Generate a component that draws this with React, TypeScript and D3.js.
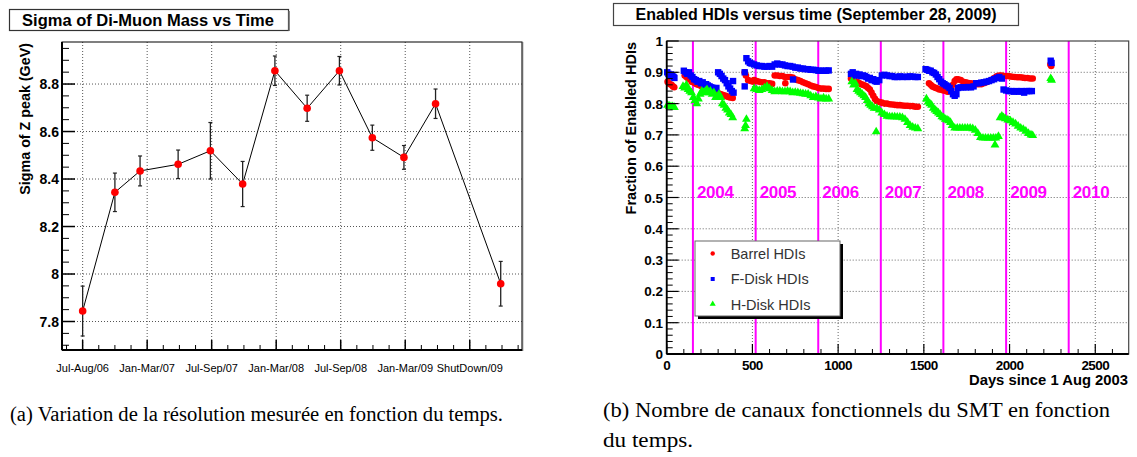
import React from 'react';
import * as d3 from 'd3';

const W = 1137;
const H = 457;
const SANS = '"Liberation Sans", Arial, Helvetica, sans-serif';
const SERIF = '"Liberation Serif", "Times New Roman", serif';

// ---------------- Left panel data ----------------
const leftTitle = 'Sigma of Di-Muon Mass vs Time';
const leftYTitle = 'Sigma of Z peak (GeV)';
const periodLabels = ['Jul-Aug/06', 'Jan-Mar/07', 'Jul-Sep/07', 'Jan-Mar/08', 'Jul-Sep/08', 'Jan-Mar/09', 'ShutDown/09'];
const sigmaX = [0, 0.5, 0.89, 1.48, 1.98, 2.48, 2.98, 3.48, 3.98, 4.49, 4.98, 5.47, 6.48];
const sigmaVals = [7.844, 8.344, 8.434, 8.462, 8.519, 8.379, 8.856, 8.698, 8.856, 8.574, 8.491, 8.717, 7.959];
const sigmaErr = [0.105, 0.081, 0.063, 0.06, 0.119, 0.095, 0.062, 0.055, 0.06, 0.053, 0.05, 0.062, 0.094];
const sigmaTicks = [7.8, 8, 8.2, 8.4, 8.6, 8.8];

// ---------------- Right panel data ----------------
const rightTitle = 'Enabled HDIs versus time (September 28, 2009)';
const rightYTitle = 'Fraction of Enabled HDIs';
const rightXTitle = 'Days since 1 Aug 2003';
const dayTicks = [0, 500, 1000, 1500, 2000, 2500];
const fracTicks = [0, 0.1, 0.2, 0.3, 0.4, 0.5, 0.6, 0.7, 0.8, 0.9, 1];
const years = [2004, 2005, 2006, 2007, 2008, 2009, 2010];
const seriesNames = ['Barrel HDIs', 'F-Disk HDIs', 'H-Disk HDIs'];

const captionA = '(a) Variation de la résolution mesurée en fonction du temps.';
const captionB1 = '(b) Nombre de canaux fonctionnels du SMT en fonction';
const captionB2 = 'du temps.';

const barrel: [number, number][] = [
  [5, 0.87], [12, 0.865], [20, 0.862], [28, 0.86], [36, 0.855], [44, 0.852],
  [105, 0.89], [115, 0.885], [125, 0.88], [135, 0.878], [145, 0.87], [155, 0.868], [165, 0.865], [175, 0.862],
  [185, 0.86], [195, 0.858], [205, 0.855], [215, 0.853], [225, 0.85], [235, 0.848], [245, 0.845], [255, 0.843],
  [265, 0.84], [275, 0.838], [285, 0.835], [295, 0.835], [305, 0.832], [315, 0.83], [325, 0.828], [335, 0.826],
  [345, 0.825], [355, 0.822], [365, 0.82], [375, 0.82], [385, 0.818],
  [455, 0.9], [462, 0.89], [475, 0.875], [490, 0.872], [505, 0.87],
  [510, 0.875], [525, 0.872], [540, 0.87], [555, 0.868], [570, 0.868], [585, 0.865], [600, 0.865], [615, 0.863],
  [630, 0.89], [645, 0.89], [660, 0.888], [675, 0.888], [690, 0.885], [692, 0.865], [705, 0.885], [720, 0.885],
  [735, 0.883], [750, 0.878], [765, 0.875], [780, 0.872], [795, 0.868], [810, 0.865], [825, 0.862], [840, 0.858],
  [855, 0.855], [870, 0.853], [885, 0.85], [900, 0.848], [915, 0.848], [930, 0.847], [945, 0.847],
  [1075, 0.88], [1085, 0.885], [1095, 0.875], [1105, 0.87], [1115, 0.868], [1125, 0.865], [1135, 0.862],
  [1145, 0.86], [1155, 0.858], [1165, 0.855], [1175, 0.85], [1185, 0.845], [1195, 0.835], [1205, 0.825],
  [1215, 0.815], [1225, 0.808], [1240, 0.805], [1255, 0.803], [1270, 0.8], [1285, 0.8], [1300, 0.798],
  [1315, 0.797], [1330, 0.796], [1345, 0.795], [1360, 0.795], [1375, 0.794], [1390, 0.793], [1405, 0.793],
  [1420, 0.792], [1435, 0.792], [1450, 0.79], [1465, 0.79],
  [1530, 0.865], [1540, 0.86], [1550, 0.855], [1560, 0.852], [1570, 0.85], [1580, 0.848], [1590, 0.845],
  [1600, 0.845], [1610, 0.843], [1620, 0.842], [1630, 0.84], [1640, 0.838], [1650, 0.84], [1660, 0.845],
  [1670, 0.86], [1680, 0.872], [1690, 0.878], [1700, 0.878], [1715, 0.875], [1730, 0.87], [1745, 0.868],
  [1760, 0.866], [1775, 0.865], [1790, 0.863], [1805, 0.862], [1820, 0.862], [1835, 0.862], [1850, 0.865],
  [1865, 0.868], [1880, 0.872], [1895, 0.876], [1910, 0.882], [1925, 0.887], [1940, 0.89], [1955, 0.89],
  [1970, 0.888], [1985, 0.888], [2000, 0.887], [2015, 0.886], [2030, 0.885], [2045, 0.884], [2060, 0.884],
  [2075, 0.883], [2090, 0.882], [2105, 0.882], [2120, 0.88], [2135, 0.88],
  [2238, 0.925], [2243, 0.92],
];

const fdisk: [number, number][] = [
  [3, 0.9], [10, 0.895], [18, 0.89], [25, 0.893], [33, 0.888], [40, 0.885], [45, 0.882],
  [100, 0.905], [110, 0.9], [120, 0.895], [130, 0.9], [140, 0.89], [150, 0.885], [160, 0.878], [170, 0.875],
  [180, 0.87], [190, 0.872], [200, 0.865], [210, 0.868], [220, 0.86], [230, 0.862], [240, 0.858], [250, 0.855],
  [260, 0.852], [270, 0.85], [280, 0.848], [290, 0.85], [300, 0.9], [310, 0.895], [320, 0.888], [330, 0.88],
  [340, 0.875], [350, 0.865], [360, 0.855], [370, 0.848], [380, 0.84], [387, 0.872], [390, 0.835],
  [455, 0.9], [455, 0.855], [465, 0.945], [475, 0.935], [485, 0.93], [495, 0.928],
  [510, 0.925], [525, 0.922], [540, 0.92], [555, 0.92], [570, 0.918], [585, 0.918], [600, 0.92], [615, 0.918],
  [630, 0.925], [645, 0.928], [660, 0.925], [675, 0.925], [690, 0.922], [705, 0.92], [720, 0.92], [735, 0.918],
  [737, 0.877], [750, 0.915], [765, 0.915], [780, 0.912], [795, 0.912], [810, 0.91], [825, 0.91], [840, 0.908],
  [855, 0.908], [870, 0.907], [885, 0.905], [900, 0.905], [915, 0.905], [930, 0.905], [945, 0.906],
  [1075, 0.895], [1085, 0.9], [1095, 0.89], [1105, 0.895], [1115, 0.89], [1125, 0.893], [1135, 0.888],
  [1145, 0.89], [1155, 0.888], [1165, 0.885], [1175, 0.88], [1185, 0.882], [1195, 0.875], [1205, 0.878],
  [1215, 0.872], [1225, 0.87], [1240, 0.875], [1255, 0.89], [1270, 0.892], [1285, 0.89], [1300, 0.888],
  [1315, 0.888], [1330, 0.885], [1345, 0.885], [1360, 0.887], [1375, 0.885], [1390, 0.886], [1405, 0.885],
  [1420, 0.887], [1435, 0.886], [1450, 0.885], [1465, 0.885],
  [1510, 0.91], [1520, 0.908], [1530, 0.905], [1540, 0.905], [1550, 0.9], [1560, 0.898], [1570, 0.893],
  [1580, 0.885], [1590, 0.878], [1600, 0.87], [1610, 0.865], [1620, 0.862], [1630, 0.858], [1640, 0.855],
  [1650, 0.85], [1660, 0.84], [1670, 0.83], [1680, 0.825], [1690, 0.83], [1700, 0.85], [1715, 0.852],
  [1730, 0.852], [1745, 0.852], [1760, 0.853], [1775, 0.852], [1790, 0.855], [1805, 0.865], [1820, 0.865],
  [1835, 0.867], [1850, 0.868], [1865, 0.87], [1880, 0.872], [1895, 0.875], [1910, 0.878], [1925, 0.882],
  [1940, 0.885], [1955, 0.88], [1965, 0.845], [1980, 0.842], [1995, 0.84], [2010, 0.84], [2025, 0.838],
  [2040, 0.84], [2055, 0.838], [2070, 0.84], [2085, 0.835], [2100, 0.84], [2115, 0.84], [2130, 0.84],
  [2240, 0.937], [2245, 0.93],
];

const hdisk: [number, number][] = [
  [5, 0.795], [15, 0.792], [25, 0.79], [35, 0.79], [45, 0.788],
  [95, 0.855], [105, 0.85], [115, 0.86], [125, 0.845], [135, 0.84], [145, 0.835], [155, 0.82], [165, 0.81],
  [175, 0.8], [185, 0.815], [195, 0.83], [205, 0.84], [215, 0.835], [225, 0.84], [235, 0.845], [245, 0.835],
  [255, 0.84], [265, 0.83], [275, 0.835], [285, 0.82], [295, 0.82], [305, 0.83], [315, 0.82], [325, 0.8],
  [335, 0.795], [345, 0.785], [355, 0.78], [365, 0.77], [375, 0.765], [385, 0.755],
  [455, 0.72], [460, 0.73], [465, 0.75],
  [510, 0.848], [525, 0.845], [540, 0.842], [555, 0.845], [570, 0.85], [585, 0.855], [600, 0.848], [615, 0.842],
  [630, 0.838], [645, 0.84], [660, 0.84], [675, 0.838], [690, 0.838], [705, 0.84], [720, 0.838], [735, 0.835],
  [750, 0.836], [765, 0.835], [780, 0.833], [795, 0.832], [810, 0.83], [825, 0.83], [840, 0.825], [855, 0.82],
  [870, 0.822], [885, 0.818], [900, 0.815], [915, 0.818], [930, 0.815], [945, 0.815],
  [1080, 0.87], [1090, 0.86], [1100, 0.865], [1110, 0.845], [1120, 0.84], [1130, 0.835], [1140, 0.83],
  [1150, 0.825], [1160, 0.82], [1170, 0.81], [1180, 0.8], [1190, 0.795], [1200, 0.79], [1210, 0.785],
  [1222, 0.71], [1225, 0.785], [1240, 0.78], [1255, 0.77], [1270, 0.765], [1285, 0.76], [1300, 0.758],
  [1315, 0.758], [1330, 0.758], [1345, 0.757], [1360, 0.757], [1375, 0.755], [1390, 0.75], [1405, 0.74],
  [1420, 0.73], [1435, 0.725], [1450, 0.722], [1465, 0.72],
  [1515, 0.815], [1525, 0.805], [1535, 0.8], [1545, 0.795], [1555, 0.785], [1565, 0.78], [1575, 0.775],
  [1585, 0.77], [1595, 0.765], [1605, 0.758], [1615, 0.755], [1625, 0.75], [1635, 0.748], [1645, 0.745],
  [1655, 0.74], [1665, 0.73], [1680, 0.722], [1695, 0.722], [1710, 0.722], [1725, 0.722], [1740, 0.722],
  [1755, 0.722], [1770, 0.722], [1785, 0.72], [1800, 0.715], [1815, 0.705], [1830, 0.692], [1845, 0.69],
  [1860, 0.69], [1875, 0.69], [1890, 0.69], [1905, 0.69], [1915, 0.668], [1920, 0.69], [1935, 0.695],
  [1945, 0.755], [1955, 0.76], [1965, 0.755], [1975, 0.752], [1990, 0.748], [2005, 0.745], [2020, 0.74],
  [2035, 0.735], [2050, 0.728], [2065, 0.722], [2080, 0.718], [2095, 0.712], [2110, 0.705], [2125, 0.7],
  [2135, 0.698],
  [2240, 0.88], [2245, 0.875],
];

const RED = '#ff0000';
const BLUE = '#0000ff';
const GREEN = '#00ff00';
const MAGENTA = '#ff00ff';

function LeftPanel() {
  const L = 62, R = 522, T = 42, B = 350;
  const x = d3.scaleLinear().domain([-0.32, 6.81]).range([L, R]);
  const y = d3.scaleLinear().domain([7.68, 8.977]).range([B, T]);
  const majorX = periodLabels.map((_, i) => i);
  const minorX = d3.range(-0.25, 6.81, 0.25).filter((v) => Math.abs(v - Math.round(v)) > 1e-6);
  const minorY = d3.range(7.7, 8.97, 0.05).filter((v) => !sigmaTicks.some((t) => Math.abs(t - v) < 1e-6));
  const line = d3.line<number>().x((_, i) => x(sigmaX[i])).y((d) => y(d));
  return (
    <g>
      {/* title box */}
      <rect x={9.5} y={9.5} width={279} height={21} fill="#fff" stroke="#333" strokeWidth={1.2} />
      <line x1={289} y1={11} x2={289} y2={31} stroke="#666" strokeWidth={1.5} />
      <text x={148} y={26} textAnchor="middle" fontFamily={SANS} fontWeight="bold" fontSize={16.5}>{leftTitle}</text>
      {/* grid */}
      {majorX.map((v) => (
        <line key={'gx' + v} x1={x(v)} x2={x(v)} y1={T} y2={B} stroke="#555" strokeWidth={1} strokeDasharray="1,2" />
      ))}
      {sigmaTicks.map((v) => (
        <line key={'gy' + v} x1={L} x2={R} y1={y(v)} y2={y(v)} stroke="#555" strokeWidth={1} strokeDasharray="1,2" />
      ))}
      {/* frame */}
      <rect x={L} y={T} width={R - L} height={B - T} fill="none" stroke="#000" strokeWidth={1} />
      <line x1={R + 0.5} x2={R + 0.5} y1={T} y2={B + 1} stroke="#666" strokeWidth={1.5} />
      <line x1={L} x2={L} y1={T} y2={B} stroke="#000" strokeWidth={2} />
      <line x1={L} x2={R} y1={B} y2={B} stroke="#000" strokeWidth={2} />
      {/* y ticks */}
      {sigmaTicks.map((v) => (
        <g key={'yt' + v}>
          <line x1={L} x2={L + 13} y1={y(v)} y2={y(v)} stroke="#000" strokeWidth={1.5} />
          <text x={L - 3} y={y(v) + 5} textAnchor="end" fontFamily={SANS} fontWeight="bold" fontSize={14}>{String(v)}</text>
        </g>
      ))}
      {minorY.map((v) => (
        <line key={'ym' + v} x1={L} x2={L + 7} y1={y(v)} y2={y(v)} stroke="#000" strokeWidth={1} />
      ))}
      {/* x ticks */}
      {majorX.map((v, i) => (
        <g key={'xt' + v}>
          <line x1={x(v)} x2={x(v)} y1={B} y2={B - 10} stroke="#000" strokeWidth={1.5} />
          <text x={x(v)} y={372} textAnchor="middle" fontFamily={SANS} fontSize={11}>{periodLabels[i]}</text>
        </g>
      ))}
      {minorX.map((v) => (
        <line key={'xm' + v} x1={x(v)} x2={x(v)} y1={B} y2={B - 5} stroke="#000" strokeWidth={1} />
      ))}
      {/* axis title */}
      <text transform={`translate(30,43) rotate(-90)`} textAnchor="end" fontFamily={SANS} fontWeight="bold" fontSize={14.3}>{leftYTitle}</text>
      {/* data */}
      <path d={line(sigmaVals) || ''} fill="none" stroke="#000" strokeWidth={1} />
      {sigmaVals.map((v, i) => {
        const cx = x(sigmaX[i]);
        const y1 = y(v + sigmaErr[i]);
        const y2 = y(v - sigmaErr[i]);
        return (
          <g key={'pt' + i}>
            <line x1={cx} x2={cx} y1={y1} y2={y2} stroke="#222" strokeWidth={1.3} />
            <line x1={cx - 2} x2={cx + 2} y1={y1} y2={y1} stroke="#222" strokeWidth={1.2} />
            <line x1={cx - 2} x2={cx + 2} y1={y2} y2={y2} stroke="#222" strokeWidth={1.2} />
            <circle cx={cx} cy={y(v)} r={3.8} fill={RED} />
          </g>
        );
      })}
    </g>
  );
}

function RightPanel() {
  const L = 666.7, R = 1128.7, T = 41, B = 354;
  const x = d3.scaleLinear().domain([0, 2695]).range([L, R]);
  const y = d3.scaleLinear().domain([0, 1]).range([B, T]);
  const minorX = d3.range(100, 2695, 100).filter((v) => v % 500 !== 0);
  const minorY = d3.range(0.02, 1, 0.02).filter((v) => Math.abs(v * 10 - Math.round(v * 10)) > 1e-6);
  const yearDays = years.map((yr) => d3.utcDay.count(new Date(Date.UTC(2003, 7, 1)), new Date(Date.UTC(yr, 0, 1))));
  const tri = d3.symbol(d3.symbolTriangle, 34)() || '';
  const triSmall = d3.symbol(d3.symbolTriangle, 16)() || '';
  const fmt = (v: number) => (v === 0 ? '0' : v === 1 ? '1' : d3.format('.1f')(v));
  return (
    <g>
      {/* title box */}
      <rect x={613.5} y={3.5} width={405} height={22} fill="#fff" stroke="#444" strokeWidth={1.2} />
      <text x={816} y={20} textAnchor="middle" fontFamily={SANS} fontWeight="bold" fontSize={16}>{rightTitle}</text>
      {/* grid */}
      {dayTicks.filter((v) => v > 0).map((v) => (
        <line key={'gx' + v} x1={x(v)} x2={x(v)} y1={T} y2={B} stroke="#666" strokeWidth={1} strokeDasharray="1,2" />
      ))}
      {fracTicks.filter((v) => v > 0 && v < 1).map((v) => (
        <line key={'gy' + v} x1={L} x2={R} y1={y(v)} y2={y(v)} stroke="#666" strokeWidth={1} strokeDasharray="1,2" />
      ))}
      {/* year lines */}
      {yearDays.map((d, i) => (
        <g key={'yr' + years[i]}>
          <line x1={x(d)} x2={x(d)} y1={T} y2={B} stroke={MAGENTA} strokeWidth={2} />
          <text x={x(d) + 4} y={198} fontFamily={SANS} fontWeight="bold" fontSize={17} fill={MAGENTA} letterSpacing={-0.3}>{years[i]}</text>
        </g>
      ))}
      {/* data */}
      {barrel.map(([d, v], i) => (
        <circle key={'b' + i} cx={x(d)} cy={y(v)} r={3.3} fill={RED} />
      ))}
      {fdisk.map(([d, v], i) => (
        <rect key={'f' + i} x={x(d) - 3.2} y={y(v) - 3.2} width={6.4} height={6.4} fill={BLUE} />
      ))}
      {hdisk.map(([d, v], i) => (
        <path key={'h' + i} d={tri} transform={`translate(${x(d)},${y(v)})`} fill={GREEN} />
      ))}
      {/* frame */}
      <rect x={L} y={T} width={R - L} height={B - T} fill="none" stroke="#444" strokeWidth={1.2} />
      <line x1={L} x2={L} y1={T} y2={B} stroke="#000" strokeWidth={1.8} />
      <line x1={L} x2={R} y1={B} y2={B} stroke="#000" strokeWidth={1.8} />
      {/* y ticks */}
      {fracTicks.map((v) => (
        <g key={'yt' + v}>
          <line x1={L} x2={L + 12} y1={y(v)} y2={y(v)} stroke="#000" strokeWidth={1.2} />
          <text x={663} y={y(v) + 5} textAnchor="end" fontFamily={SANS} fontWeight="bold" fontSize={13.5}>{fmt(v)}</text>
        </g>
      ))}
      {minorY.map((v) => (
        <line key={'ym' + v} x1={L} x2={L + 6} y1={y(v)} y2={y(v)} stroke="#000" strokeWidth={1} />
      ))}
      {/* x ticks */}
      {dayTicks.map((v) => (
        <g key={'xt' + v}>
          <line x1={x(v)} x2={x(v)} y1={B} y2={B - 10} stroke="#000" strokeWidth={1.2} />
          <text x={x(v)} y={370} textAnchor="middle" fontFamily={SANS} fontWeight="bold" fontSize={13.5} letterSpacing={-0.6}>{String(v)}</text>
        </g>
      ))}
      {minorX.map((v) => (
        <line key={'xm' + v} x1={x(v)} x2={x(v)} y1={B} y2={B - 5} stroke="#000" strokeWidth={1} />
      ))}
      {/* axis titles */}
      <text transform={`translate(636,42) rotate(-90)`} textAnchor="end" fontFamily={SANS} fontWeight="bold" fontSize={14.5}>{rightYTitle}</text>
      <text x={1128} y={385} textAnchor="end" fontFamily={SANS} fontWeight="bold" fontSize={14.8}>{rightXTitle}</text>
      {/* legend */}
      <rect x={698} y={244} width={145} height={75} fill="#000" />
      <rect x={695} y={241} width={145} height={75} fill="#fff" stroke="#666" strokeWidth={1} />
      <circle cx={712.7} cy={253.5} r={2.2} fill={RED} />
      <rect x={710.7} y={277} width={4} height={4} fill={BLUE} />
      <path d={triSmall} transform="translate(712.7,304)" fill={GREEN} />
      {seriesNames.map((n, i) => (
        <text key={n} x={730.7} y={258.5 + i * 25.5} fontFamily={SANS} fontSize={14.5} fill="#333">{n}</text>
      ))}
    </g>
  );
}

export default function App() {
  return (
    <svg width={W} height={H} viewBox={`0 0 ${W} ${H}`} style={{ position: 'absolute', left: 0, top: 0, background: '#fff' }}>
      <rect x={0} y={0} width={W} height={H} fill="#fff" />
      <LeftPanel />
      <RightPanel />
      <text x={10} y={421} fontFamily={SERIF} fontSize={20.5} textLength={493} lengthAdjust="spacingAndGlyphs">{captionA}</text>
      <text x={603} y={417} fontFamily={SERIF} fontSize={20.5} textLength={507} lengthAdjust="spacingAndGlyphs">{captionB1}</text>
      <text x={603} y={447} fontFamily={SERIF} fontSize={20.5} textLength={90} lengthAdjust="spacingAndGlyphs">{captionB2}</text>
    </svg>
  );
}
